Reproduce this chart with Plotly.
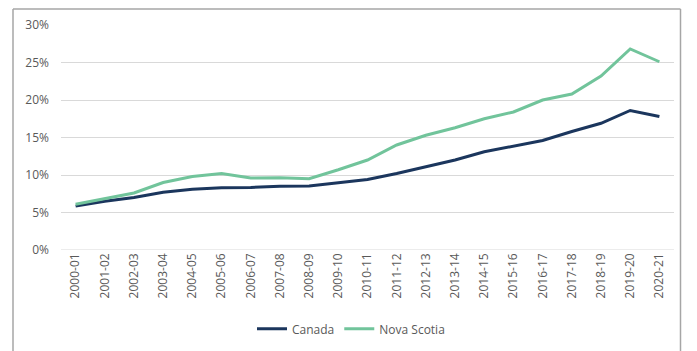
import plotly.graph_objects as go

years = ["2000-01", "2001-02", "2002-03", "2003-04", "2004-05", "2005-06", "2006-07",
         "2007-08", "2008-09", "2009-10", "2010-11", "2011-12", "2012-13", "2013-14",
         "2014-15", "2015-16", "2016-17", "2017-18", "2018-19", "2019-20", "2020-21"]
canada = [5.85, 6.5, 7.0, 7.7, 8.1, 8.3, 8.35, 8.5, 8.55, 9.0, 9.4, 10.2, 11.1, 12.0,
          13.1, 13.9, 14.6, 15.8, 16.9, 18.6, 17.8]
nova_scotia = [6.1, 6.9, 7.6, 9.0, 9.8, 10.2, 9.6, 9.65, 9.5, 10.7, 12.0, 14.0, 15.3, 16.3,
               17.5, 18.4, 20.0, 20.8, 23.2, 26.8, 25.1]
y_ticks = [0, 5, 10, 15, 20, 25, 30]
y_tick_labels = [f"{v}%" for v in y_ticks]

fig = go.Figure()
fig.add_trace(go.Scatter(x=years, y=canada, mode="lines", name="Canada",
                         line=dict(color="#1B365D", width=3)))
fig.add_trace(go.Scatter(x=years, y=nova_scotia, mode="lines", name="Nova Scotia",
                         line=dict(color="#71C49B", width=3)))

OFF = 8  # page body margin offset
W, H = 697 - OFF, 351 - OFF
L = 61 - OFF
T = 24.5 - OFF
R = W - (674 - OFF)
plot_bottom = 250 - OFF
B = H - plot_bottom
pw = W - L - R
ph = H - T - B


def fx(px):
    return (px - L) / pw


def fy(px):
    return (plot_bottom - px) / ph


border = dict(color="#A6A6A6", width=1.5)
RIGHT = 680.5
fig.update_layout(
    width=W, height=H,
    margin=dict(l=L, r=R, t=T, b=B, autoexpand=False),
    paper_bgcolor="white", plot_bgcolor="white",
    font=dict(family="Open Sans", size=12, color="#595959"),
    showlegend=True,
    legend=dict(orientation="h", x=fx(244), xanchor="left",
                y=fy(329 - OFF), yanchor="middle",
                font=dict(size=12, color="#595959"),
                itemwidth=30, tracegroupgap=0),
    xaxis=dict(type="category", tickangle=-90, showgrid=False, showline=False,
               ticks="", tickfont=dict(size=12, color="#595959"), automargin=False,
               range=[-0.5, len(years) - 0.5]),
    yaxis=dict(range=[0, 30], tickvals=y_ticks, ticktext=y_tick_labels,
               showgrid=True, gridcolor="#D9D9D9", gridwidth=1, zeroline=False,
               showline=False, ticks="", automargin=False, ticklabelstandoff=11,
               tickfont=dict(size=12, color="#595959")),
    shapes=[
        dict(type="line", xref="paper", yref="paper",
             x0=fx(13 - OFF), x1=fx(13 - OFF), y0=fy(H + 10), y1=fy(0.5), line=border),
        dict(type="line", xref="paper", yref="paper",
             x0=fx(RIGHT - OFF), x1=fx(RIGHT - OFF), y0=fy(H + 10), y1=fy(0.5), line=border),
        dict(type="line", xref="paper", yref="paper",
             x0=fx(13 - OFF), x1=fx(RIGHT - OFF), y0=fy(0.5), y1=fy(0.5), line=border),
    ],
)
fig.add_hline(y=0, line=dict(color="#D9D9D9", width=1))

fig.write_html("out.html")
